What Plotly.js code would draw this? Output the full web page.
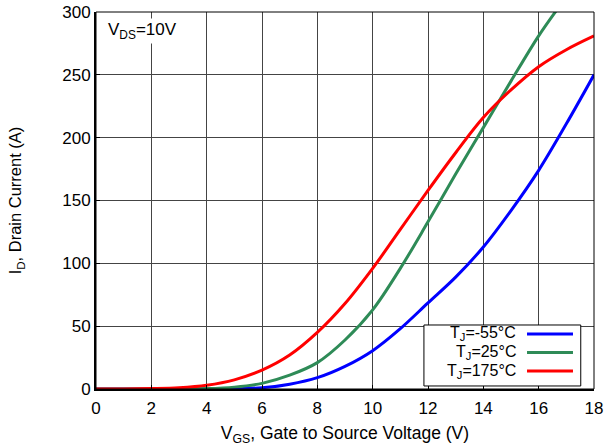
<!DOCTYPE html>
<html>
<head>
<meta charset="utf-8">
<script src="https://cdn.plot.ly/plotly-3.0.1.min.js"></script>
<style>html,body{margin:0;padding:0;background:#fff;}#chart{width:605px;height:446px;}</style>
</head>
<body>
<div id="chart"></div>
<script>
// Data
const seriesNames = ['T<sub>J</sub>=-55°C', 'T<sub>J</sub>=25°C', 'T<sub>J</sub>=175°C'];
const seriesColors = ['#0000ff', '#2e8b57', '#ff0000'];

const vgsM55 = [0, 2, 4, 5, 6, 7, 8, 9, 10, 11, 12, 13, 14, 15, 16, 17, 18];
const idM55  = [0, 0, 0, 0.2, 1, 3.8, 9, 18, 30.5, 48, 68.5, 89, 113, 142, 174, 211, 250];

const vgs25 = [0, 2, 3, 4, 5, 6, 7, 8, 9, 10, 11, 12, 13, 14, 15, 16, 16.7];
const id25  = [0, 0, 0, 0.3, 1.5, 4.5, 11, 21, 39, 63, 96, 133, 171, 208, 245, 281, 303];

const vgs175 = [0, 1, 2, 3, 4, 5, 6, 7, 8, 9, 10, 11, 12, 13, 14, 15, 16, 17, 18];
const id175  = [0, 0, 0.3, 1, 3, 7.3, 15, 27, 45, 68, 96, 127, 158, 188, 216, 238, 256.5, 270, 281];

const xTicks = [0, 2, 4, 6, 8, 10, 12, 14, 16, 18];
const yTicks = [0, 50, 100, 150, 200, 250, 300];

const xs = [vgsM55, vgs25, vgs175];
const ys = [idM55, id25, id175];

const FONT = 'Liberation Sans, Arial, Helvetica, sans-serif';

const traces = xs.map((x, i) => ({
  x: x, y: ys[i], type: 'scatter', mode: 'lines', name: seriesNames[i],
  line: {color: seriesColors[i], width: 3, shape: 'spline', smoothing: 1},
  showlegend: false, hoverinfo: 'skip'
}));

// manual legend (text right-aligned, line sample on the right)
const legAnn = [];
const legShapes = [{type: 'rect', xref: 'paper', yref: 'paper', x0: 0.6585, x1: 0.9734, y0: 0.0080, y1: 0.1698,
  line: {color: '#000', width: 1}, fillcolor: '#fff', layer: 'above'}];
const rowY = [0.1459, 0.0968, 0.0477];
seriesNames.forEach((n, i) => {
  legAnn.push({xref: 'paper', yref: 'paper', x: 0.8474, y: rowY[i], xanchor: 'right', yanchor: 'middle',
    text: n, showarrow: false, font: {family: FONT, size: 16, color: '#000'}});
  legShapes.push({type: 'line', xref: 'paper', yref: 'paper', x0: 0.8655, x1: 0.9578, y0: rowY[i], y1: rowY[i],
    line: {color: seriesColors[i], width: 3}, layer: 'above'});
});

const layout = {
  width: 605, height: 446,
  margin: {l: 96, r: 11, t: 12, b: 57},
  paper_bgcolor: '#fff', plot_bgcolor: '#fff',
  font: {family: FONT, size: 16, color: '#000'},
  showlegend: false,
  xaxis: {
    range: [0, 18], tickvals: xTicks, ticktext: xTicks.map(String),
    showgrid: true, gridcolor: '#444', gridwidth: 1,
    showline: true, linecolor: '#000', linewidth: 2, mirror: false,
    ticks: 'inside', ticklen: 4, tickcolor: '#000', tickwidth: 1,
    zeroline: false, fixedrange: true, ticklabelstandoff: 3,
    tickfont: {family: FONT, size: 17},
    title: {text: 'V<sub>GS</sub>, Gate to Source Voltage (V)', font: {family: FONT, size: 17.5}, standoff: 10}
  },
  yaxis: {
    range: [0, 300], tickvals: yTicks, ticktext: yTicks.map(String),
    showgrid: true, gridcolor: '#444', gridwidth: 1,
    showline: true, linecolor: '#000', linewidth: 2, mirror: false,
    ticks: 'inside', ticklen: 4, tickcolor: '#000', tickwidth: 1,
    zeroline: false, fixedrange: true,
    tickfont: {family: FONT, size: 17},
    title: {text: 'I<sub>D</sub>, Drain Current (A)', font: {family: FONT, size: 16.5}, standoff: 36}
  },
  shapes: [{type: 'rect', xref: 'paper', yref: 'paper', x0: 0, x1: 1, y0: 0, y1: 1,
    line: {color: '#000', width: 1}, layer: 'above'}].concat(legShapes),
  annotations: [{xref: 'paper', yref: 'paper', x: 0.02, y: 0.985, xanchor: 'left', yanchor: 'top',
    text: 'V<sub>DS</sub>=10V', showarrow: false, font: {family: FONT, size: 17, color: '#000'},
    bgcolor: '#fff'}].concat(legAnn)
};

Plotly.newPlot('chart', traces, layout, {displayModeBar: false, staticPlot: true});
</script>
</body>
</html>
